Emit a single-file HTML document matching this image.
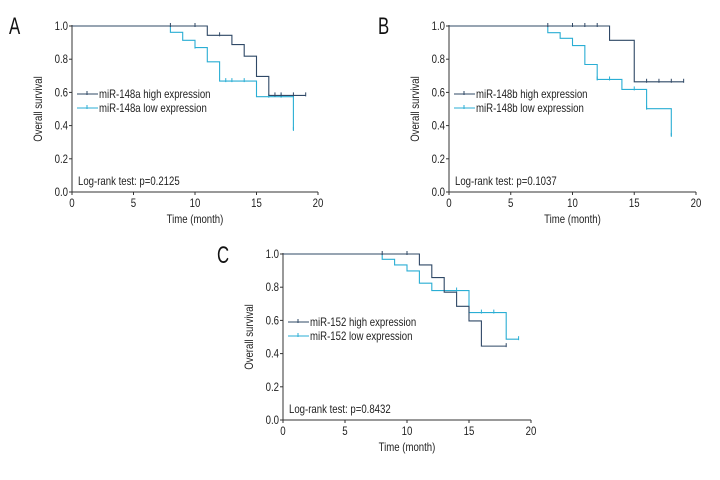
<!DOCTYPE html>
<html><head><meta charset="utf-8"><style>
body{margin:0;background:#fff;}
svg{display:block;font-family:"Liberation Sans",sans-serif;}
</style></head><body>
<svg id="c" width="720" height="480"></svg>
<script>
const xTicks=[0,5,10,15,20];
const yTicks=[0,0.2,0.4,0.6,0.8,1.0];
const yTickLabels=["0.0","0.2","0.4","0.6","0.8","1.0"];
// Panel A
const aHighT=[0,11,13,14,15,16,19];
const aHighS=[1,0.944,0.888,0.818,0.696,0.582,0.582];
const aHighCens=[8,10,12,16.5,17,18,19];
const aLowT=[0,8,9,10,11,12,15,18];
const aLowS=[1,0.962,0.914,0.87,0.784,0.668,0.574,0.374];
const aLowCens=[10,12.5,13,14,16,17,18];
// Panel B
const bHighT=[0,13,15,19];
const bHighS=[1,0.914,0.664,0.664];
const bHighCens=[8,10,11,12,16,17,18,19];
const bLowT=[0,8,9,10,11,12,14,16,18];
const bLowS=[1,0.96,0.926,0.882,0.768,0.678,0.618,0.502,0.338];
const bLowCens=[12,13,15,16,18];
// Panel C
const cHighT=[0,11,12,13,14,15,16,18];
const cHighS=[1,0.934,0.858,0.77,0.685,0.597,0.445,0.445];
const cHighCens=[8,10,18];
const cLowT=[0,8,9,10,11,12,15,18,19];
const cLowS=[1,0.968,0.934,0.898,0.824,0.78,0.647,0.487,0.487];
const cLowCens=[14,16,17,19];

const DARK="#2f4866", LIGHT="#2aaed4";
const svg=document.getElementById('c');
const NS="http://www.w3.org/2000/svg";
const texts=[];
function mk(tag,attrs,parent){const e=document.createElementNS(NS,tag);for(const k in attrs)e.setAttribute(k,attrs[k]);(parent||svg).appendChild(e);return e;}
function txt(s,attrs,parent,f){const e=mk('text',attrs,parent);e.textContent=s;texts.push([e,f||0.8]);return e;}

function panel(p){
  const g=mk('g',{});
  
  
  const sx=v=>p.x0+(p.x1-p.x0)*v/20;
  const sy=v=>p.y0+(p.y1-p.y0)*v;
  const lt=txt(p.letter,{x:p.lx,y:p.ly,'font-size':24,fill:'#111'},g,0.7);
  
  
  const ax=mk('path',{d:`M${p.x0} ${sy(1)-1}V${p.y0}H${p.x1}`,stroke:'#333',fill:'none','stroke-width':1},g);
  
  
  yTicks.forEach((v,i)=>{
    mk('line',{x1:p.x0-3,x2:p.x0,y1:sy(v),y2:sy(v),stroke:'#333'},g);
    const t=txt(yTickLabels[i],{x:p.x0-4,y:sy(v)+4,'font-size':12,'text-anchor':'end',fill:'#222'},g);
    
    
  });
  xTicks.forEach(v=>{
    mk('line',{x1:sx(v),x2:sx(v),y1:p.y0,y2:p.y0+3,stroke:'#333'},g);
    const t=txt(String(v),{x:sx(v),y:p.y0+15,'font-size':12,'text-anchor':'middle',fill:'#222'},g);
    
    
  });
  const xt=txt('Time (month)',{x:(p.x0+p.x1)/2,y:p.y0+31,'font-size':12,'text-anchor':'middle',fill:'#222'},g);
  
  
  const cy=(p.y0+sy(1))/2;
  const yt=txt('Overall survival',{x:p.x0-30,y:cy,'font-size':12,'text-anchor':'middle',fill:'#222',transform:`rotate(-90 ${p.x0-30} ${cy})`},g);
  
  
  function curve(T,S,C,col,name){
    let d=`M${sx(T[0])} ${sy(S[0])}`;
    for(let i=1;i<T.length;i++){d+=`H${sx(T[i])}V${sy(S[i])}`;}
    const pth=mk('path',{d,stroke:col,fill:'none','stroke-width':1.1},g);
    
    
    C.forEach(c=>{
      let s=S[0];for(let i=0;i<T.length;i++){if(T[i]<=c)s=S[i];}
      const m=mk('line',{x1:sx(c),x2:sx(c),y1:sy(s)-3,y2:sy(s)+1,stroke:col,'stroke-width':1},g);
      
      
    });
  }
  curve(p.lT,p.lS,p.lC,LIGHT,'low-expression');
  curve(p.hT,p.hS,p.hC,DARK,'high-expression');
  [[DARK,p.names[0]],[LIGHT,p.names[1]]].forEach((e,i)=>{
    const yy=p.legY+i*14;
    const lg=mk('g',{},g);
    
    
    mk('line',{x1:p.x0+5,x2:p.x0+26,y1:yy,y2:yy,stroke:e[0]},lg);
    mk('line',{x1:p.x0+15,x2:p.x0+15,y1:yy-3,y2:yy+1,stroke:e[0]},lg);
    txt(e[1],{x:p.x0+27,y:yy+4,'font-size':12,fill:'#222'},lg);
  });
  const lr=txt(p.lr,{x:p.x0+6,y:p.y0-7,'font-size':12,fill:'#222'},g);
  
  
}
panel({letter:'A',lx:9,ly:34,x0:72,x1:318,y0:192,y1:26,legY:94,hT:aHighT,hS:aHighS,hC:aHighCens,lT:aLowT,lS:aLowS,lC:aLowCens,names:['miR-148a high expression','miR-148a low expression'],lr:'Log-rank test: p=0.2125'});
panel({letter:'B',lx:378,ly:34,x0:449,x1:696,y0:192,y1:26,legY:94,hT:bHighT,hS:bHighS,hC:bHighCens,lT:bLowT,lS:bLowS,lC:bLowCens,names:['miR-148b high expression','miR-148b low expression'],lr:'Log-rank test: p=0.1037'});
panel({letter:'C',lx:217,ly:263,x0:283,x1:531,y0:420,y1:254,legY:322,hT:cHighT,hS:cHighS,hC:cHighCens,lT:cLowT,lS:cLowS,lC:cLowCens,names:['miR-152 high expression','miR-152 low expression'],lr:'Log-rank test: p=0.8432'});
texts.forEach(([e,f])=>{const w=e.getComputedTextLength();e.setAttribute('textLength',(w*f).toFixed(1));e.setAttribute('lengthAdjust','spacingAndGlyphs');});
</script>
</body></html>
